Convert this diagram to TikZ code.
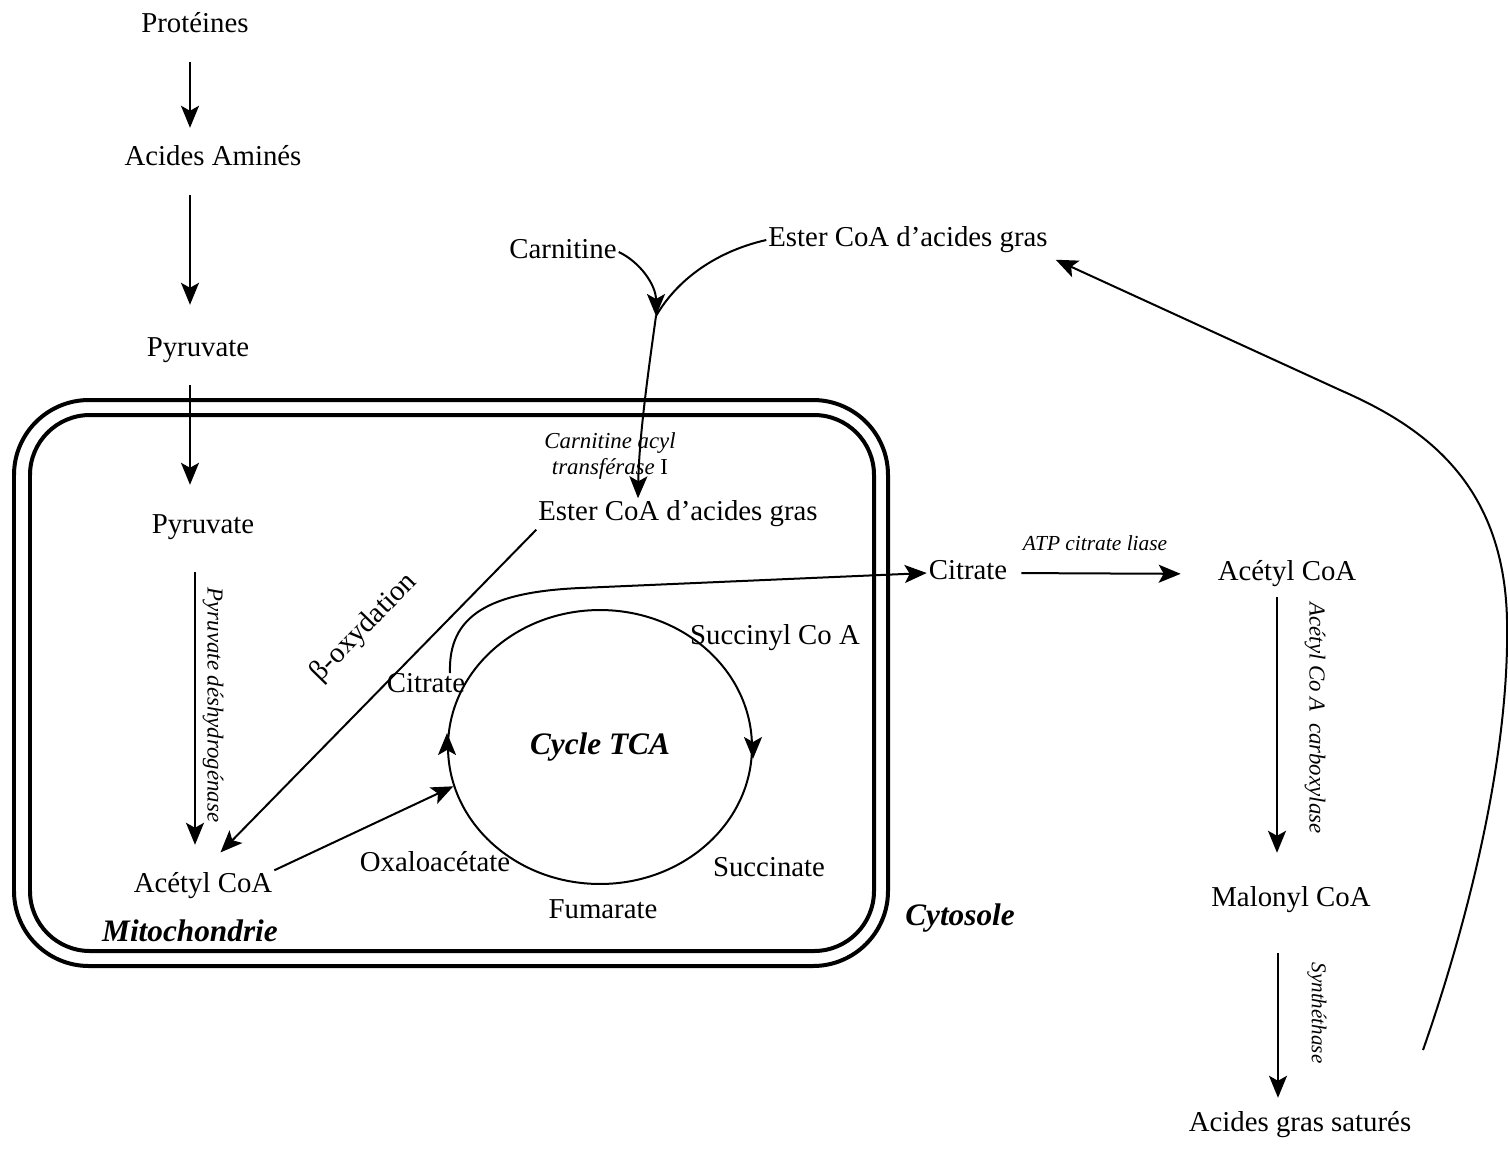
\documentclass[tikz,border=0pt]{standalone}
\usepackage{fontspec}
\setmainfont{Liberation Serif}
\usetikzlibrary{arrows.meta, positioning, calc, shapes.geometric}
\tikzset{
  met/.style={
    font=\fontsize{16.4}{18}\selectfont,
    inner sep=1pt, text height=0.4cm, text depth=0.145cm
  },
  enz/.style={
    font=\itshape\fontsize{13}{15.3}\selectfont, inner sep=1pt
  },
  zone/.style={
    font=\bfseries\itshape\fontsize{17.8}{20}\selectfont, inner sep=1pt
  },
  arr/.style={
    -{Stealth[length=0.44cm, width=0.36cm, inset=0.1cm]}, line width=0.04cm
  },
  membrane/.style={
    line width=0.08cm
  },
  cycle ring/.style={
    ellipse, draw, line width=0.04cm, inner sep=0pt,
    minimum width=6.08cm, minimum height=5.48cm
  }
}

\begin{document}
\begin{tikzpicture}[x=0.02cm, y=-0.02cm]
  \useasboundingbox (0,0) rectangle (1508,1150);

  % double membrane
  \draw[membrane, rounded corners=1.5cm] (14,400) rectangle (888,966);
  \draw[membrane, rounded corners=1.2cm] (30,415) rectangle (874,951);

  % left chain
  \node[met] (prot) at (195,26) {Protéines};
  \node[met] (amino) at (213,159) {Acides Aminés};
  \node[met] (pyr1) at (198,350) {Pyruvate};
  \node[met] (pyr2) at (203,527) {Pyruvate};
  \node[met] (acm) at (203,886) {Acétyl CoA};
  \node[zone] (mito) at (190,931) {Mitochondrie};
  \node[enz, rotate=-90] (pdh) at (213,705) {Pyruvate déshydrogénase};

  \coordinate (ax) at (190,0);
  \coordinate (bx) at (195,0);
  \draw[arr, shorten <=0.41cm, shorten >=0.31cm] (prot.south -| ax) -- (amino.north -| ax);
  \draw[arr, shorten <=0.41cm, shorten >=0.59cm] (amino.south -| ax) -- (pyr1.north -| ax);
  \draw[arr, shorten <=0.39cm, shorten >=0.53cm] (pyr1.south -| ax) -- (pyr2.north -| ax);
  \draw[arr, shorten <=0.59cm, shorten >=0.51cm] (pyr2.south -| bx) -- (acm.north -| bx);

  % carnitine shuttle
  \node[met] (carn) at (563,252) {Carnitine};
  \node[met] (estc) at (908,240) {Ester CoA d’acides gras};
  \node[met] (estm) at (678,514) {Ester CoA d’acides gras};
  \node[enz, align=center] (cat) at (610,456) {Carnitine acyl\\transférase \textup{I}};

  \coordinate (cmerge) at (656,316);
  \draw[line width=0.04cm] (estc.west) .. controls (722,250) and (680,275) .. (cmerge);
  \draw[arr] (carn.east) .. controls (640,262) and (656,285) .. (cmerge);
  \draw[arr] (cmerge) .. controls (647,380) and (639,440) .. ([xshift=-0.8cm]estm.north);

  % beta-oxydation
  \draw[arr, shorten >=0.5cm] (estm.south west) -- (acm.north)
    node[met, pos=0.4, sloped, above=0.75cm] (box) {β-oxydation};

  % TCA cycle
  \node[cycle ring, zone] (tca) at (600,747) {Cycle TCA};
  \draw[arr] (tca.east) -- ++(0,12);
  \draw[arr] (tca.west) -- ++(0,-14);
  \node[met] (sca) at (775,638) {Succinyl Co A};
  \node[met] (citin) at (426,686) {Citrate};
  \node[met] (oxa) at (435,865) {Oxaloacétate};
  \node[met] (fum) at (603,912) {Fumarate};
  \node[met] (succ) at (769,870) {Succinate};
  \draw[arr] (acm.north east) -- (tca.195);

  % cytosol
  \node[met] (citout) at (968,573) {Citrate};
  \node[met] (acc) at (1287,574) {Acétyl CoA};
  \node[met] (mal) at (1291,900) {Malonyl CoA};
  \node[met] (ags) at (1300,1125) {Acides gras saturés};
  \node[zone] (cyto) at (960,918) {Cytosole};
  \node[enz, font=\itshape\fontsize{12.2}{14}\selectfont] (atpl) at (1095,543) {ATP citrate liase};
  \node[enz, rotate=-90] (accx) at (1315,718) {Acétyl Co A\ \ carboxylase};
  \node[enz, rotate=-90, font=\itshape\fontsize{12}{14}\selectfont] (syn) at (1317,1013) {Synthéthase};

  \coordinate (cexp) at (450,673);
  \draw[arr] (cexp) .. controls (448,615) and (490,592) .. (580,588) -- (citout.west);
  \draw[arr, shorten <=0.24cm, shorten >=0.7cm] (citout.east) -- (acc.west);

  \coordinate (cx) at (1277,0);
  \coordinate (dx) at (1278,0);
  \draw[arr, shorten <=0.15cm, shorten >=0.63cm] (acc.south -| cx) -- (mal.north -| cx);
  \draw[arr, shorten <=0.75cm, shorten >=0.23cm] (mal.south -| dx) -- (ags.north -| dx);

  % recycling
  \coordinate (ret) at (1423,1050);
  \draw[arr] (ret) .. controls (1465,930) and (1510,760) .. (1507,620)
    .. controls (1504,480) and (1420,425) .. (1340,390) -- ([shift={(6,4)}]estc.south east);
\end{tikzpicture}
\end{document}
